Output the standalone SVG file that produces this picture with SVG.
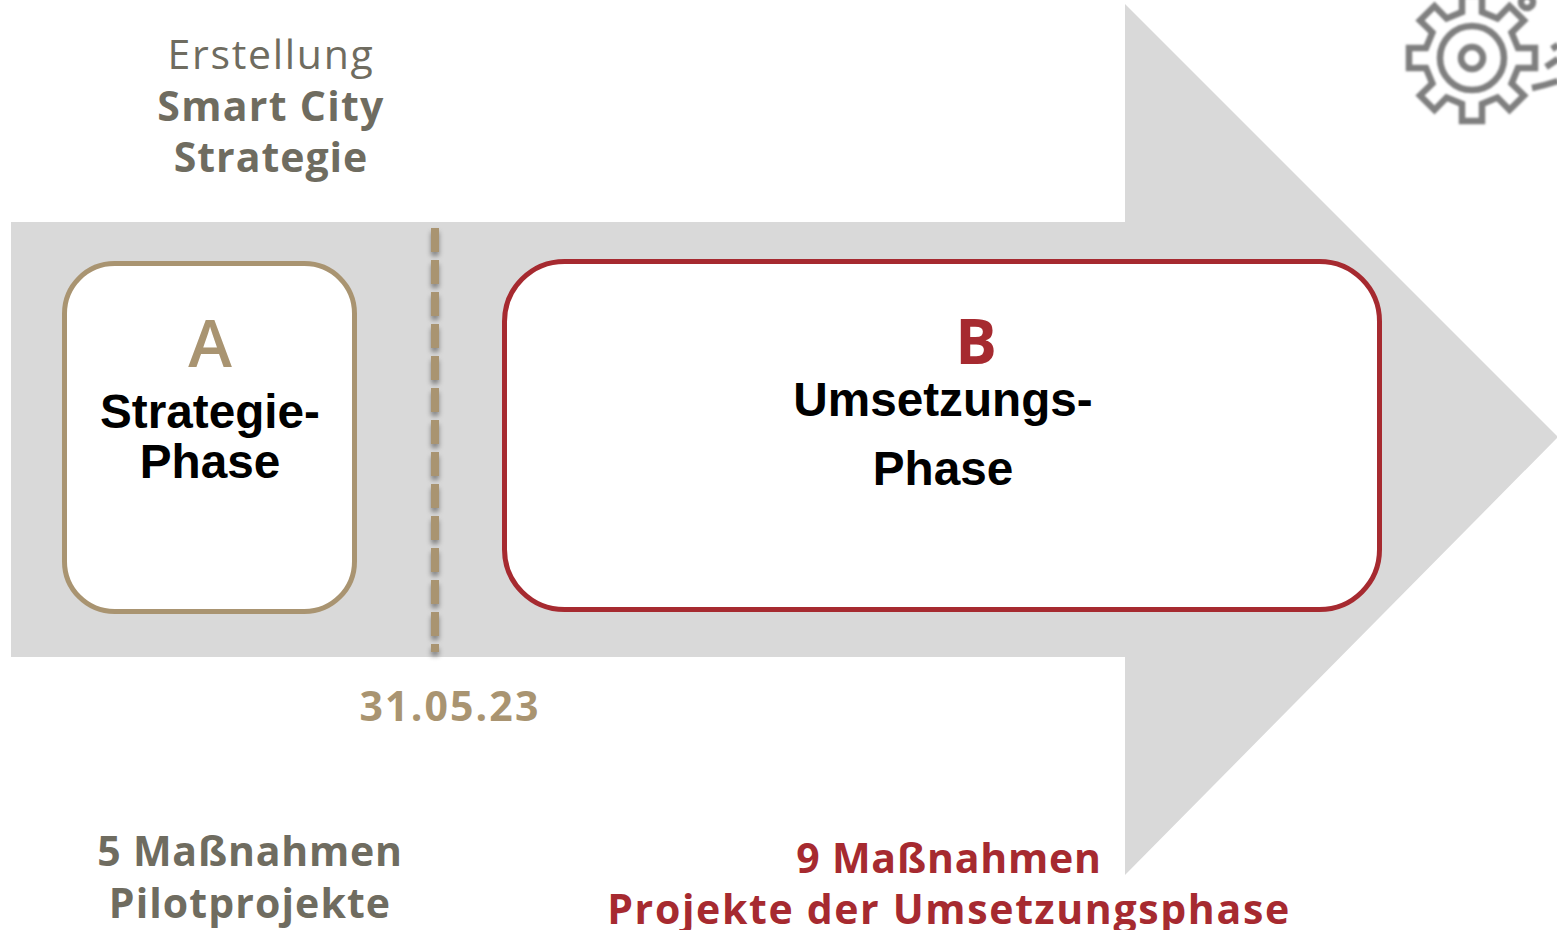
<svg xmlns="http://www.w3.org/2000/svg" width="1557" height="930" viewBox="0 0 1557 930">
<style>
.lbl{font-family:"Open Sans","DejaVu Sans",sans-serif;text-anchor:middle;font-size:41px;letter-spacing:1px}
.b{font-weight:700}
.grey{fill:#6f6c60}
.red{fill:#a62a30}
.tan{fill:#a99471}
.head{font-family:"Liberation Sans",Arial,sans-serif;font-weight:700;font-size:47.700px;text-anchor:middle;fill:#000}
.box{fill:#fff;stroke-width:5}
.gear{fill:none;stroke:#7f7f7f;stroke-width:6.500;stroke-linejoin:miter}
</style>
<defs>
<filter id="soft" filterUnits="userSpaceOnUse" x="415" y="215" width="40" height="455"><feDropShadow dx="0" dy="4" stdDeviation="2.500" flood-color="#000" flood-opacity="0.4"/></filter>
<filter id="blur" filterUnits="userSpaceOnUse" x="1390" y="0" width="167" height="140"><feGaussianBlur stdDeviation="0.800"/></filter>
</defs>
<rect width="1557" height="930" fill="#fff"/>
<polygon id="arrow" points="11,222 1125,222 1125,4 1558,437 1125,875 1125,657 11,657" fill="#d9d9d9"/>
<g id="phase-a">
<rect class="box" x="64.500" y="263.500" width="290" height="348" rx="50" stroke="#a99471"/>
<text x="210" y="367" font-family="'Open Sans',sans-serif" font-size="66" font-weight="600" text-anchor="middle" class="tan">A</text>
<text class="head" x="210" y="428">Strategie-</text>
<text class="head" x="210" y="478">Phase</text>
</g>
<g id="phase-b">
<rect class="box" x="504.500" y="261.500" width="875" height="348" rx="60" stroke="#a62a30"/>
<text x="976" y="364" font-family="'Open Sans',sans-serif" font-size="62" font-weight="700" text-anchor="middle" class="red">B</text>
<text class="head" x="943" y="416">Umsetzungs-</text>
<text class="head" x="943" y="485">Phase</text>
</g>
<g id="connectors">
<line x1="435" y1="228" x2="435" y2="652" stroke="#a99471" stroke-width="8" stroke-dasharray="24 8" filter="url(#soft)"/>
</g>
<g id="label-erstellung">
<text class="lbl grey" x="271" y="69" style="letter-spacing:1.700px">Erstellung</text>
<text class="lbl grey b" x="271" y="121" style="letter-spacing:1.300px">Smart City</text>
<text class="lbl grey b" x="271" y="172">Strategie</text>
</g>
<g id="label-date"><text class="lbl tan b" x="450" y="721" style="letter-spacing:2.100px">31.05.23</text></g>
<g id="label-a">
<text class="lbl grey b" x="250" y="866" style="letter-spacing:.8px">5 Maßnahmen</text>
<text class="lbl grey b" x="250" y="918" style="letter-spacing:1.100px">Pilotprojekte</text>
</g>
<g id="label-b">
<text class="lbl red b" x="949" y="873" style="letter-spacing:.8px">9 Maßnahmen</text>
<text class="lbl red b" x="949" y="924" style="letter-spacing:1.650px">Projekte der Umsetzungsphase</text>
</g>
<g id="gear" class="gear" filter="url(#blur)">
<path transform="translate(1472 58)" d="M-10-46V-63H10V-46L25.400-39.600 37.500-52 52-37.500 39.600-25.400 46-10H63V10H46L39.600 25.400 52 37.500 37.500 52 25.400 39.600 10 46V63H-10V46L-25.400 39.600-37.500 52-52 37.500-39.600 25.400-46 10H-63V-10H-46L-39.600-25.400-52-37.500-37.500-52-25.400-39.600Z"/>
<circle cx="1472" cy="58" r="32"/>
<circle cx="1472" cy="58" r="11"/>
<circle cx="1527" cy="2" r="6"/>
<path d="M1532 88Q1546 85 1558 81M1546 67L1558 59M1552 49L1558 45"/>
</g>
</svg>
